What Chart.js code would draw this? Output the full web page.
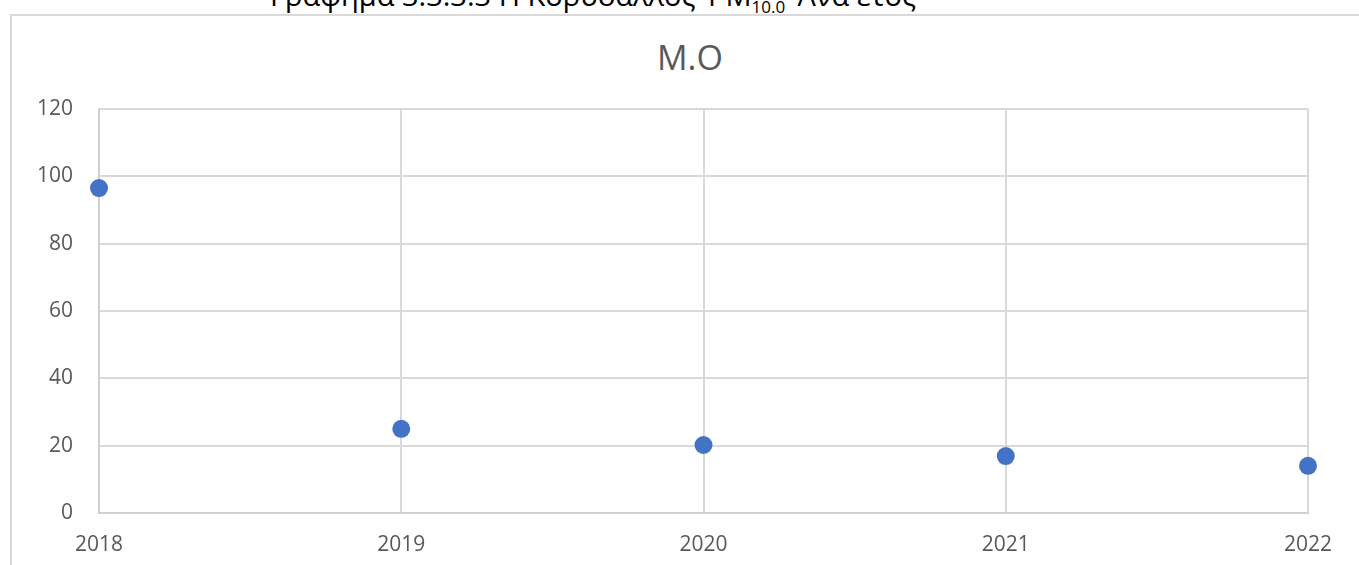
<!DOCTYPE html>
<html>
<head>
  <title>Μ.Ο ανά έτος</title>
  <style>
    html, body {
      margin: 0;
      padding: 0;
      background: #fff;
      width: 1359px;
      height: 565px;
      overflow: hidden;
      position: relative;
      font-family: "Open Sans", Arial, sans-serif;
    }
    .caption {
      position: absolute;
      left: 270px;
      top: -22px;
      font-size: 29px;
      line-height: 34px;
      color: #000;
      white-space: nowrap;
    }
    .caption sub {
      font-size: 17px;
    }
    .frame {
      position: absolute;
      left: 10px;
      top: 14px;
      width: 1400px;
      height: 600px;
      border: 2px solid #d9d9d9;
    }
    .chart-title {
      position: absolute;
      left: 590px;
      width: 200px;
      top: 35px;
      text-align: center;
      font-size: 34px;
      line-height: 44px;
      color: #595959;
    }
    #wrap {
      position: absolute;
      left: 0;
      top: 0;
      width: 1359px;
      height: 565px;
    }
  </style>
  <script src="https://cdn.jsdelivr.net/npm/chart.js@4.4.1/dist/chart.umd.min.js"></script>
</head>
<body>
  <div class="caption">Γράφημα 3.3.3.3 Η Κορυδαλλός ‘PM<sub>10.0</sub>’ Ανά έτος</div>
  <div class="frame"></div>
  <div class="chart-title">M.O</div>
  <div id="wrap"><canvas id="chart"></canvas></div>

  <script>
    // yearly mean values
    const years = ['2018', '2019', '2020', '2021', '2022'];
    const meanValues = [96.5, 25, 20.2, 16.9, 14];
    const yTicks = [0, 20, 40, 60, 80, 100, 120];

    const grey = '#595959';
    const gridColor = '#d9d9d9';
    const fontFamily = '"Open Sans", Arial, sans-serif';

    new Chart(document.getElementById('chart'), {
      type: 'line',
      data: {
        labels: years,
        datasets: [{
          label: 'M.O',
          data: meanValues,
          showLine: false,
          pointRadius: 9,
          pointHoverRadius: 9,
          pointBackgroundColor: '#4472c4',
          pointBorderColor: '#4472c4',
          pointBorderWidth: 0
        }]
      },
      options: {
        responsive: true,
        maintainAspectRatio: false,
        animation: false,
        layout: { padding: { left: 0, right: 51, top: 109, bottom: 0 } },
        plugins: {
          legend: { display: false },
          tooltip: { enabled: false },
          title: { display: false }
        },
        scales: {
          x: {
            offset: false,
            grid: { color: gridColor, lineWidth: 2, drawTicks: false },
            border: { color: '#d0d0d0', width: 2 },
            ticks: {
              color: grey,
              padding: 19,
              maxRotation: 0,
              font: { family: fontFamily, size: 21 }
            },
            afterFit: (scale) => { scale.height = 52; }
          },
          y: {
            min: 0,
            max: 120,
            afterBuildTicks: (scale) => { scale.ticks = yTicks.map(v => ({ value: v })); },
            grid: { color: gridColor, lineWidth: 2, drawTicks: false },
            border: { color: '#d0d0d0', width: 2 },
            ticks: {
              color: grey,
              padding: 26,
              font: { family: fontFamily, size: 21 }
            },
            afterFit: (scale) => { scale.width = 99; }
          }
        }
      }
    });
  </script>
</body>
</html>
